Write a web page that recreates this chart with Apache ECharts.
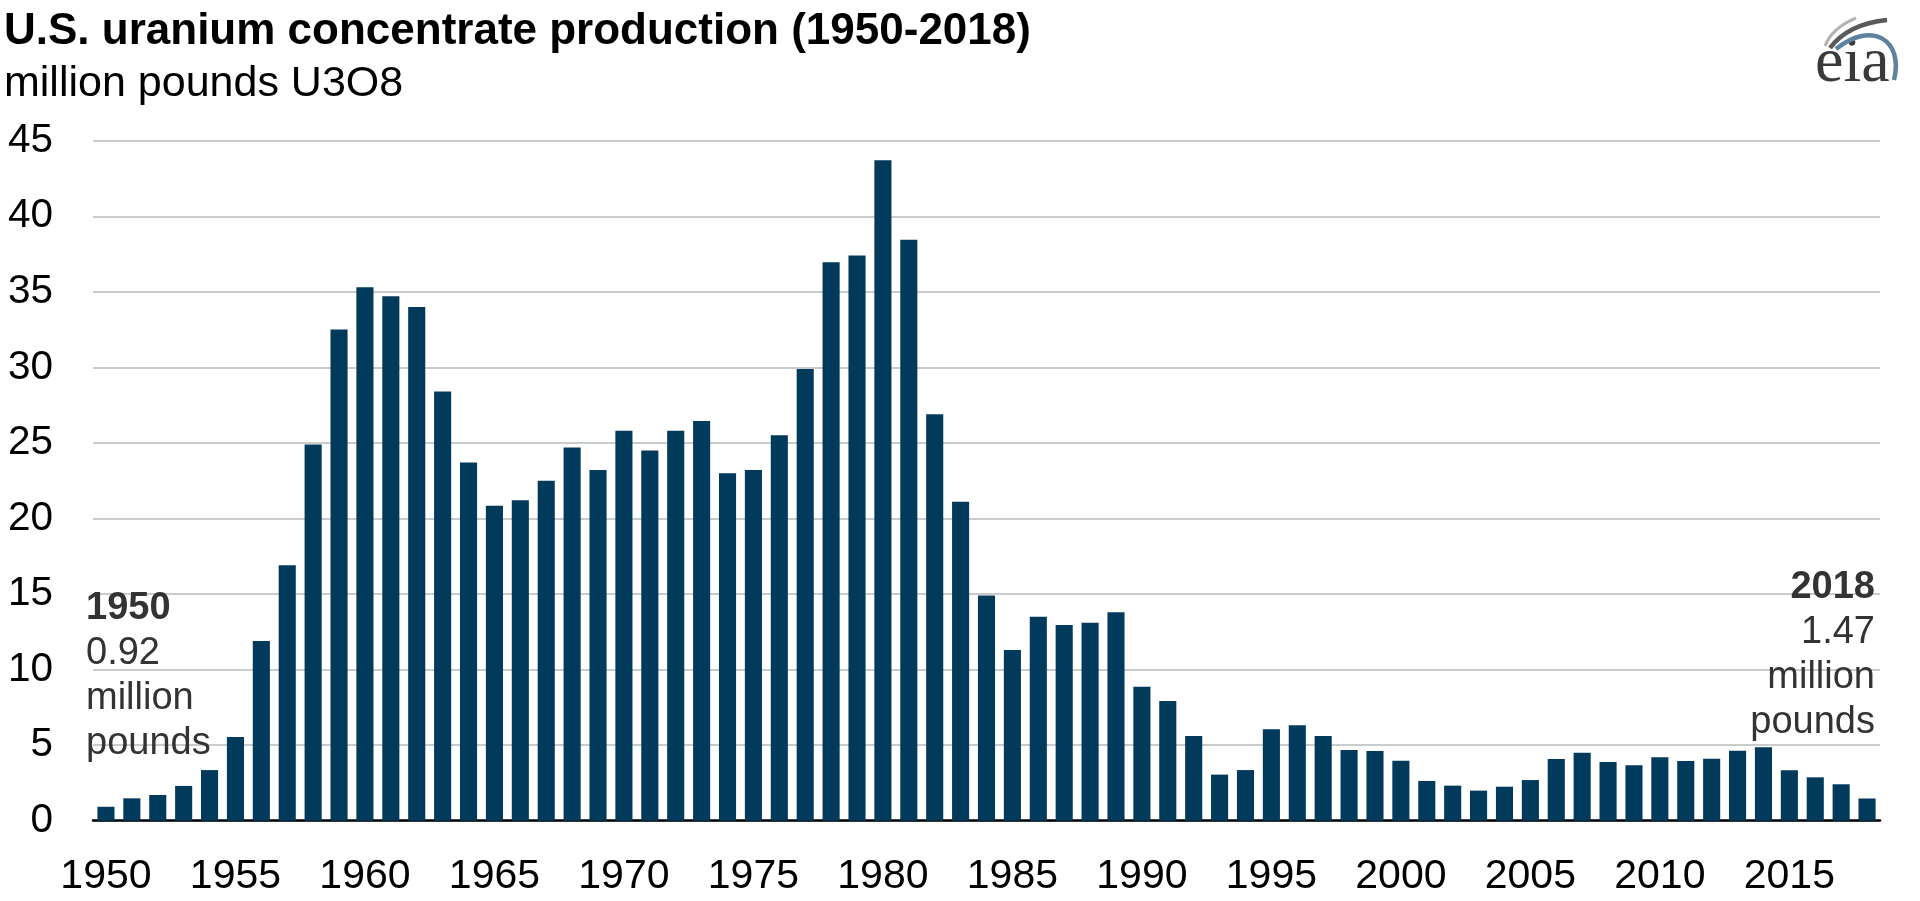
<!DOCTYPE html>
<html>
<head>
<meta charset="utf-8">
<script src="https://cdn.jsdelivr.net/npm/echarts@6/dist/echarts.min.js"></script>
<style>
html,body{margin:0;padding:0;background:#fff;}
#chart{width:1920px;height:901px;}
</style>
</head>
<body>
<div id="chart"></div>
<script>
const years = ['1950','1951','1952','1953','1954','1955','1956','1957','1958','1959',
  '1960','1961','1962','1963','1964','1965','1966','1967','1968','1969',
  '1970','1971','1972','1973','1974','1975','1976','1977','1978','1979',
  '1980','1981','1982','1983','1984','1985','1986','1987','1988','1989',
  '1990','1991','1992','1993','1994','1995','1996','1997','1998','1999',
  '2000','2001','2002','2003','2004','2005','2006','2007','2008','2009',
  '2010','2011','2012','2013','2014','2015','2016','2017','2018'];
const production = [0.92,1.48,1.70,2.30,3.35,5.54,11.9,16.9,24.9,32.5,
  35.3,34.7,34.0,28.4,23.7,20.85,21.2,22.5,24.7,23.2,
  25.8,24.5,25.8,26.45,23.0,23.2,25.5,29.9,36.95,37.4,
  43.7,38.45,26.9,21.1,14.9,11.3,13.5,12.95,13.1,13.8,
  8.87,7.92,5.6,3.05,3.35,6.05,6.31,5.6,4.68,4.61,
  3.97,2.63,2.32,1.99,2.25,2.69,4.08,4.5,3.88,3.67,
  4.2,3.95,4.1,4.63,4.86,3.34,2.87,2.41,1.47];
const yTicks = [0,5,10,15,20,25,30,35,40,45];
const titleText = 'U.S. uranium concentrate production (1950-2018)';
const subtitleText = 'million pounds U3O8';
const firstNote = ['1950','0.92','million','pounds'];
const lastNote = ['2018','1.47','million','pounds'];

const chart = echarts.init(document.getElementById('chart'));
const FONT = '"Liberation Sans", Arial, sans-serif';

function noteText(lines){
  return '{b|' + lines[0] + '}\n{r|' + lines.slice(1).join('}\n{r|') + '}';
}

chart.setOption({
  animation: false,
  backgroundColor: '#ffffff',
  title: {
    text: titleText,
    subtext: subtitleText,
    left: 4, top: 10, padding: 0, itemGap: 9,
    textStyle: {fontFamily: FONT, fontSize: 44, fontWeight: 'bold', color: '#000', lineHeight: 44},
    subtextStyle: {fontFamily: FONT, fontSize: 43, color: '#000', lineHeight: 43}
  },
  grid: {left: 93, right: 40, top: 140.7, bottom: 80.3, containLabel: false},
  xAxis: {
    type: 'category',
    data: years,
    axisTick: {show: false},
    axisLine: {lineStyle: {color: '#000', width: 2.5}},
    axisLabel: {interval: 4, fontFamily: FONT, fontSize: 41, color: '#000', margin: 35}
  },
  yAxis: {
    type: 'value',
    min: yTicks[0], max: yTicks[yTicks.length-1], interval: 5,
    axisLine: {show: false},
    axisTick: {show: false},
    axisLabel: {fontFamily: FONT, fontSize: 40.5, color: '#000', margin: 40},
    splitLine: {lineStyle: {color: '#c9cccd', width: 2}}
  },
  series: [{
    type: 'bar',
    data: production,
    barWidth: '66%',
    itemStyle: {color: '#023a5c'},
    z: 2
  }],
  graphic: [
    {type: 'text', left: 86, top: 590, z: 10,
      style: {text: noteText(firstNote), fill: '#333', font: '38px ' + FONT,
        rich: {b: {fontFamily: FONT, fontSize: 38, fontWeight: 'bold', lineHeight: 45, fill: '#333'},
               r: {fontFamily: FONT, fontSize: 38, lineHeight: 45, fill: '#333'}}}},
    {type: 'text', right: 45, top: 569, z: 10,
      style: {text: noteText(lastNote), fill: '#333', align: 'right', font: '38px ' + FONT,
        rich: {b: {fontFamily: FONT, fontSize: 38, fontWeight: 'bold', lineHeight: 45, fill: '#333', align: 'right'},
               r: {fontFamily: FONT, fontSize: 38, lineHeight: 45, fill: '#333', align: 'right'}}}},
    // eia logo
    {type: 'text', left: 1815, top: 32, z: 10,
      style: {text: 'eia', fill: '#3a3a3a', font: '64px "Liberation Serif", "DejaVu Serif", serif'}},
    {type: 'bezierCurve', z: 10,
      shape: {x1: 1825, y1: 46, x2: 1856, y2: 18, cpx1: 1832, cpy1: 28},
      style: {stroke: '#b4b4b4', lineWidth: 3, fill: null}},
    {type: 'bezierCurve', z: 10,
      shape: {x1: 1830, y1: 48, x2: 1887, y2: 20, cpx1: 1848, cpy1: 24},
      style: {stroke: '#5a5a5a', lineWidth: 4.5, fill: null}},
    {type: 'bezierCurve', z: 10,
      shape: {x1: 1836, y1: 49, x2: 1894, y2: 80, cpx1: 1872, cpy1: 20, cpx2: 1904, cpy2: 40},
      style: {stroke: '#5d83a0', lineWidth: 4.5, fill: null}}
  ]
});
</script>
</body>
</html>
